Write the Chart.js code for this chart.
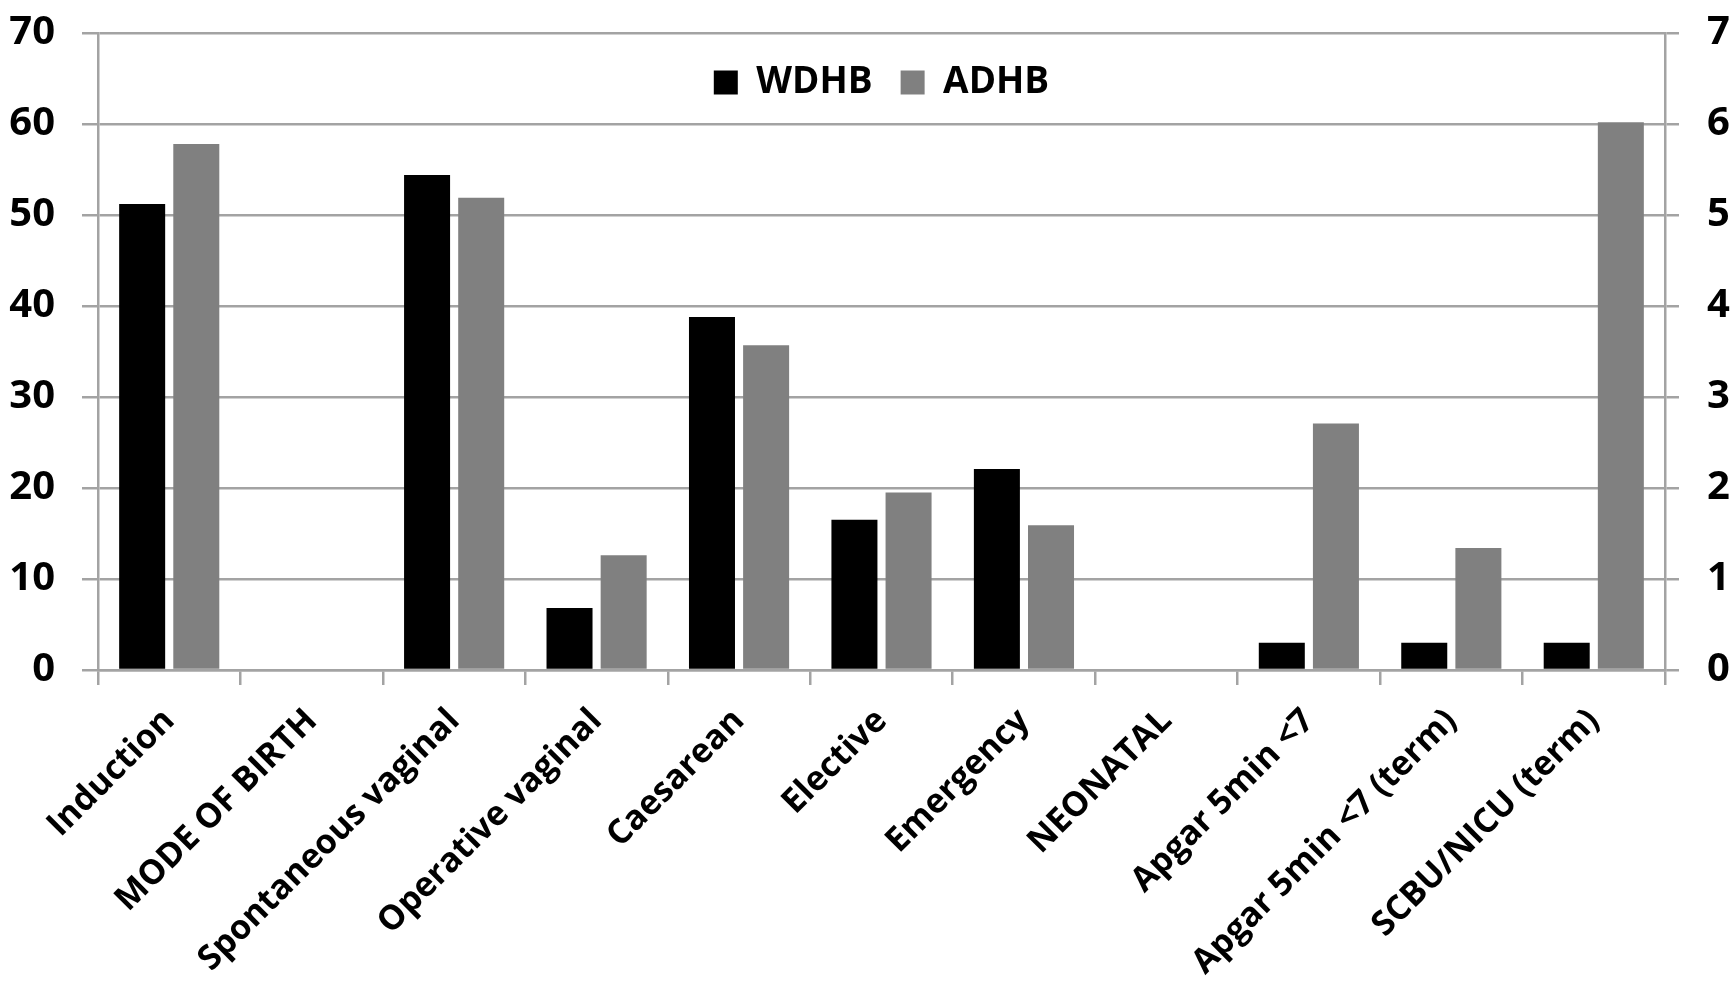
<!DOCTYPE html>
<html>
<head>
<meta charset="utf-8">
<script src="https://cdn.jsdelivr.net/npm/chart.js@4/dist/chart.umd.min.js"></script>
<style>
    body { margin: 0; background: #fff; }
    #wrap { width: 1731px; height: 999px; position: relative; }
</style>
</head>
<body>
<div id="wrap"><canvas id="grafica"></canvas></div>
<script>
const categorias = ['Induction', 'MODE OF BIRTH', 'Spontaneous vaginal', 'Operative vaginal', 'Caesarean',
    'Elective', 'Emergency', 'NEONATAL', 'Apgar 5min <7', 'Apgar 5min <7 (term)', 'SCBU/NICU (term)'];
const wdhb = [51.2, null, 54.4, 6.8, 38.8, 16.5, 22.1, null, 3.0, 3.0, 3.0];
const adhb = [57.8, null, 51.9, 12.6, 35.7, 19.5, 15.9, null, 27.1, 13.4, 60.2];
const ticksIzq = [0, 10, 20, 30, 40, 50, 60, 70];
const ticksDer = [0, 1, 2, 3, 4, 5, 6, 7];

const fuenteX = { family: 'Open Sans', size: 34, weight: 'bold' };
const fuenteY = { family: 'Open Sans', size: 40, weight: 'bold' };
const fuenteLeyenda = { family: 'Open Sans', size: 37, weight: 'bold' };
const gris = '#a3a3a3';

// la leyenda va dentro del area del grafico, arriba al centro
const leyendaDentro = {
    id: 'leyendaDentro',
    beforeUpdate: function(chart){
        const lg = chart.legend;
        if (lg && !lg._dentro) {
            const fit = lg.fit;
            lg.fit = function(){
                fit.call(this);
                this._alto = this.height;
                this.height = 0;
            };
            lg._dentro = true;
        }
    },
    afterLayout: function(chart){
        const lg = chart.legend;
        const area = chart.chartArea;
        lg.left = area.left;
        lg.right = area.right;
        lg.width = area.right - area.left;
        lg.top = area.top + 3;
        lg.height = lg._alto;
        lg.bottom = lg.top + lg._alto;
    }
};

function sinRelleno(scale, ancho){
    scale.width = ancho;
    scale.paddingTop = 0;
    scale.paddingBottom = 0;
}

grafica();

function grafica(){
    const ctx = document.getElementById('grafica').getContext('2d');
    const chart = new Chart(ctx, {
        type: 'bar',
        data: {
            labels: categorias,
            datasets: [{
                label: 'WDHB',
                data: wdhb,
                backgroundColor: '#000000',
                categoryPercentage: 0.76,
                barPercentage: 0.85
            }, {
                label: 'ADHB',
                data: adhb,
                backgroundColor: '#808080',
                categoryPercentage: 0.76,
                barPercentage: 0.85
            }]
        },
        plugins: [leyendaDentro],
        options: {
            responsive: true,
            maintainAspectRatio: false,
            animation: false,
            layout: { padding: { top: 33, left: 0, right: 0, bottom: 0 } },
            plugins: {
                tooltip: { enabled: false },
                legend: {
                    position: 'top',
                    align: 'center',
                    labels: {
                        color: '#000',
                        font: fuenteLeyenda,
                        boxWidth: 24,
                        boxHeight: 24,
                        padding: 28
                    }
                }
            },
            scales: {
                x: {
                    grid: { drawOnChartArea: false, color: gris, lineWidth: 2.5, tickLength: 15, offset: true },
                    border: { color: gris, width: 2.5 },
                    ticks: { color: '#000', font: fuenteX, minRotation: 45, maxRotation: 45, padding: 16, autoSkip: false },
                    afterFit: function(scale){ scale.height = 329; }
                },
                y: {
                    position: 'left',
                    min: 0,
                    max: 70,
                    afterBuildTicks: function(scale){ scale.ticks = ticksIzq.map(v => ({ value: v })); },
                    grid: { color: gris, lineWidth: 2.5, tickLength: 16 },
                    border: { color: gris, width: 2.5 },
                    ticks: { color: '#000', font: fuenteY, padding: 27 },
                    afterFit: function(scale){ sinRelleno(scale, 98); }
                },
                y2: {
                    position: 'right',
                    min: 0,
                    max: 7,
                    afterBuildTicks: function(scale){ scale.ticks = ticksDer.map(v => ({ value: v })); },
                    grid: { drawOnChartArea: false, color: gris, lineWidth: 2.5, tickLength: 14 },
                    border: { color: gris, width: 2.5 },
                    ticks: { color: '#000', font: fuenteY, padding: 28 },
                    afterFit: function(scale){ sinRelleno(scale, 66); }
                }
            }
        }
    });
}
</script>
</body>
</html>
